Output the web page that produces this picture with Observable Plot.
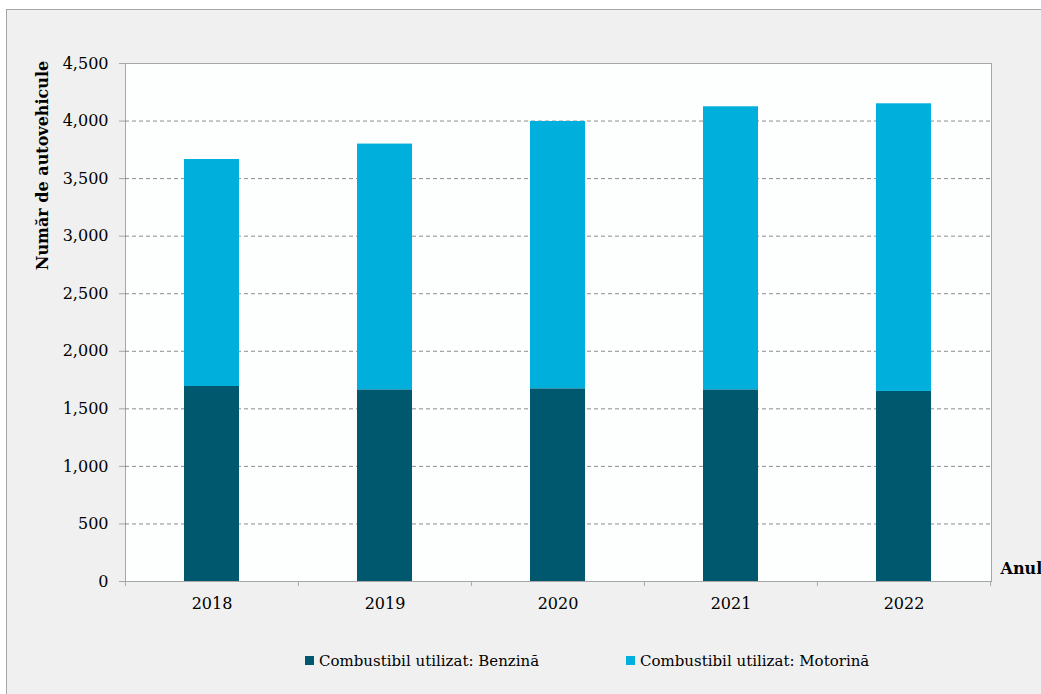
<!DOCTYPE html>
<html>
<head>
<meta charset="utf-8">
<script src="https://cdn.jsdelivr.net/npm/d3@7"></script>
<script src="https://cdn.jsdelivr.net/npm/@observablehq/plot@0.6"></script>
<style>
  html, body { margin: 0; padding: 0; background: #ffffff; }
  #wrap { position: relative; width: 1041px; height: 694px; overflow: hidden; font-family: "DejaVu Serif", serif; }
  #outer { position: absolute; left: 6px; top: 9px; width: 1100px; height: 720px; background: #f0f0f0; border: 1px solid #a6a6a6; box-sizing: border-box; }
  #chart { position: absolute; left: 0; top: 0; }
  .leg { position: absolute; top: 651px; height: 20px; line-height: 20px; font-size: 15px; color: #000; white-space: nowrap; }
  .sw { position: absolute; top: 5px; width: 9px; height: 9px; }
  .lt { position: absolute; left: 14px; top: 0; }
</style>
</head>
<body>
<div id="wrap">
  <div id="outer"></div>
  <div id="chart"></div>
  <div id="legend"></div>
</div>
<script>
const years = ["2018", "2019", "2020", "2021", "2022"];
const benzina = [1694, 1665, 1674, 1665, 1651];
const motorina = [1972, 2135, 2322, 2459, 2499];
const seriesNames = ["Combustibil utilizat: Benzină", "Combustibil utilizat: Motorină"];
const seriesColors = ["#00586f", "#00afdc"];
const yTicks = [0, 500, 1000, 1500, 2000, 2500, 3000, 3500, 4000, 4500];
const gridTicks = [500, 1000, 1500, 2000, 2500, 3000, 3500, 4000];
const yLabel = "Număr de autovehicule";
const xLabel = "Anul";

const data = [];
years.forEach((y, i) => data.push({year: y, fuel: seriesNames[0], value: benzina[i]}));
years.forEach((y, i) => data.push({year: y, fuel: seriesNames[1], value: motorina[i]}));

const W = 1041, H = 694, mL = 125, mR = 50, mT = 63, mB = 113;
const halfStep = (W - mL - mR) / years.length / 2;
const axisColor = "#a6a6a6";

const chart = Plot.plot({
  width: W, height: H,
  marginLeft: mL, marginRight: mR, marginTop: mT, marginBottom: mB,
  style: {background: "transparent", fontFamily: "DejaVu Serif", fontSize: "16px", color: "#000", overflow: "visible"},
  x: {type: "band", domain: years, paddingInner: 0.68, paddingOuter: 0.34, axis: null, label: null},
  y: {domain: [0, 4500], axis: null, label: null},
  color: {domain: seriesNames, range: seriesColors},
  marks: [
    Plot.frame({fill: "#fdfefe", stroke: axisColor}),
    Plot.gridY(gridTicks, {stroke: "#8c8c8c", strokeOpacity: 1, strokeDasharray: "4,3", strokeWidth: 1}),
    Plot.barY(data, {x: "year", y: "value", fill: "fuel"}),
    Plot.axisY(yTicks, {tickSize: 6, tickPadding: 11, tickFormat: d3.format(","), stroke: axisColor, fill: "#000", fontSize: 16}),
    Plot.axisX(years, {tickSize: 0, tickPadding: 16, fill: "#000", fontSize: 16}),
    Plot.axisX(years, {dx: -halfStep, tickSize: 5, tickFormat: () => "", stroke: axisColor}),
    Plot.axisX([years[years.length - 1]], {dx: halfStep, tickSize: 5, tickFormat: () => "", stroke: axisColor}),
    Plot.text([yLabel], {frameAnchor: "top-left", dx: -89, dy: 102, rotate: -90, text: d => d, textAnchor: "middle", fontWeight: "bold", fontSize: 16, fill: "#000"}),
    Plot.text([xLabel], {frameAnchor: "bottom-right", dx: 9, dy: -8, text: d => d, textAnchor: "start", fontWeight: "bold", fontSize: 16, fill: "#000"})
  ]
});
document.getElementById("chart").appendChild(chart);

const legend = document.getElementById("legend");
const legendX = [305, 626];
seriesNames.forEach((name, i) => {
  const item = document.createElement("div");
  item.className = "leg";
  item.style.left = legendX[i] + "px";
  const sw = document.createElement("span");
  sw.className = "sw";
  sw.style.background = seriesColors[i];
  const t = document.createElement("span");
  t.className = "lt";
  t.textContent = name;
  item.appendChild(sw);
  item.appendChild(t);
  legend.appendChild(item);
});
</script>
</body>
</html>
